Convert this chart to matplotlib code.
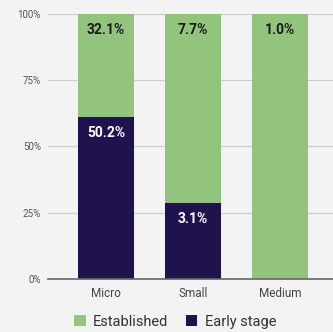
import numpy as np
import matplotlib.pyplot as plt

plt.rcParams['font.family'] = ['Roboto', 'DejaVu Sans']

categories = ['Micro', 'Small', 'Medium']
early_stage = np.array([50.2, 3.1, 0.0])
established = np.array([32.1, 7.7, 1.0])

# each column is stacked to 100%
total = early_stage + established
early_share = early_stage / total * 100
est_share = established / total * 100

green = '#93c47d'
navy = '#20124d'
bg = '#f3f3f3'

fig = plt.figure(figsize=(3.33, 3.32), dpi=100, facecolor=bg)
ax = fig.add_axes([0.144, 0.16, 0.856, 0.798], facecolor=bg)

x = np.arange(len(categories))
w = 0.64
p_early = ax.bar(x, early_share, width=w, color=navy, zorder=3)
p_est = ax.bar(x, est_share, width=w, bottom=early_share, color=green, zorder=3)

for i in range(len(categories)):
    if established[i] > 0:
        ax.annotate('%.1f%%' % established[i], (x[i], 100), xytext=(0, -11.5),
                    textcoords='offset points', ha='center', va='center',
                    fontsize=10, fontweight='bold', color='#1a1a1a', zorder=4)
    if early_stage[i] > 0:
        ax.annotate('%.1f%%' % early_stage[i], (x[i], early_share[i]), xytext=(0, -11.5),
                    textcoords='offset points', ha='center', va='center',
                    fontsize=10, fontweight='bold', color='white', zorder=4)

ax.set_xlim(-0.667, 2.61)
ax.set_ylim(0, 100)
ax.set_yticks([0, 25, 50, 75, 100])
ax.set_yticklabels(['0%', '25%', '50%', '75%', '100%'])
ax.set_xticks(x)
ax.set_xticklabels(categories)
ax.tick_params(axis='y', length=0, pad=5, labelsize=7, labelcolor='#555555')
ax.tick_params(axis='x', length=0, pad=6, labelsize=8.5, labelcolor='#444444')
ax.yaxis.grid(True, color='#cccccc', linewidth=0.8, zorder=0)
for s in ['top', 'right', 'left']:
    ax.spines[s].set_visible(False)
ax.spines['bottom'].set_color('#666666')
ax.spines['bottom'].set_linewidth(1.2)
ax.spines['bottom'].set_zorder(5)

fig.legend((p_est[0], p_early[0]), ('Established', 'Early stage'), ncol=2,
           loc='center', bbox_to_anchor=(0.526, 0.031), frameon=False,
           fontsize=10.5, handlelength=0.8, handleheight=0.8, handletextpad=0.5,
           columnspacing=1.2, labelcolor='#333333')

fig.savefig('out.png', dpi=100, facecolor=bg)
